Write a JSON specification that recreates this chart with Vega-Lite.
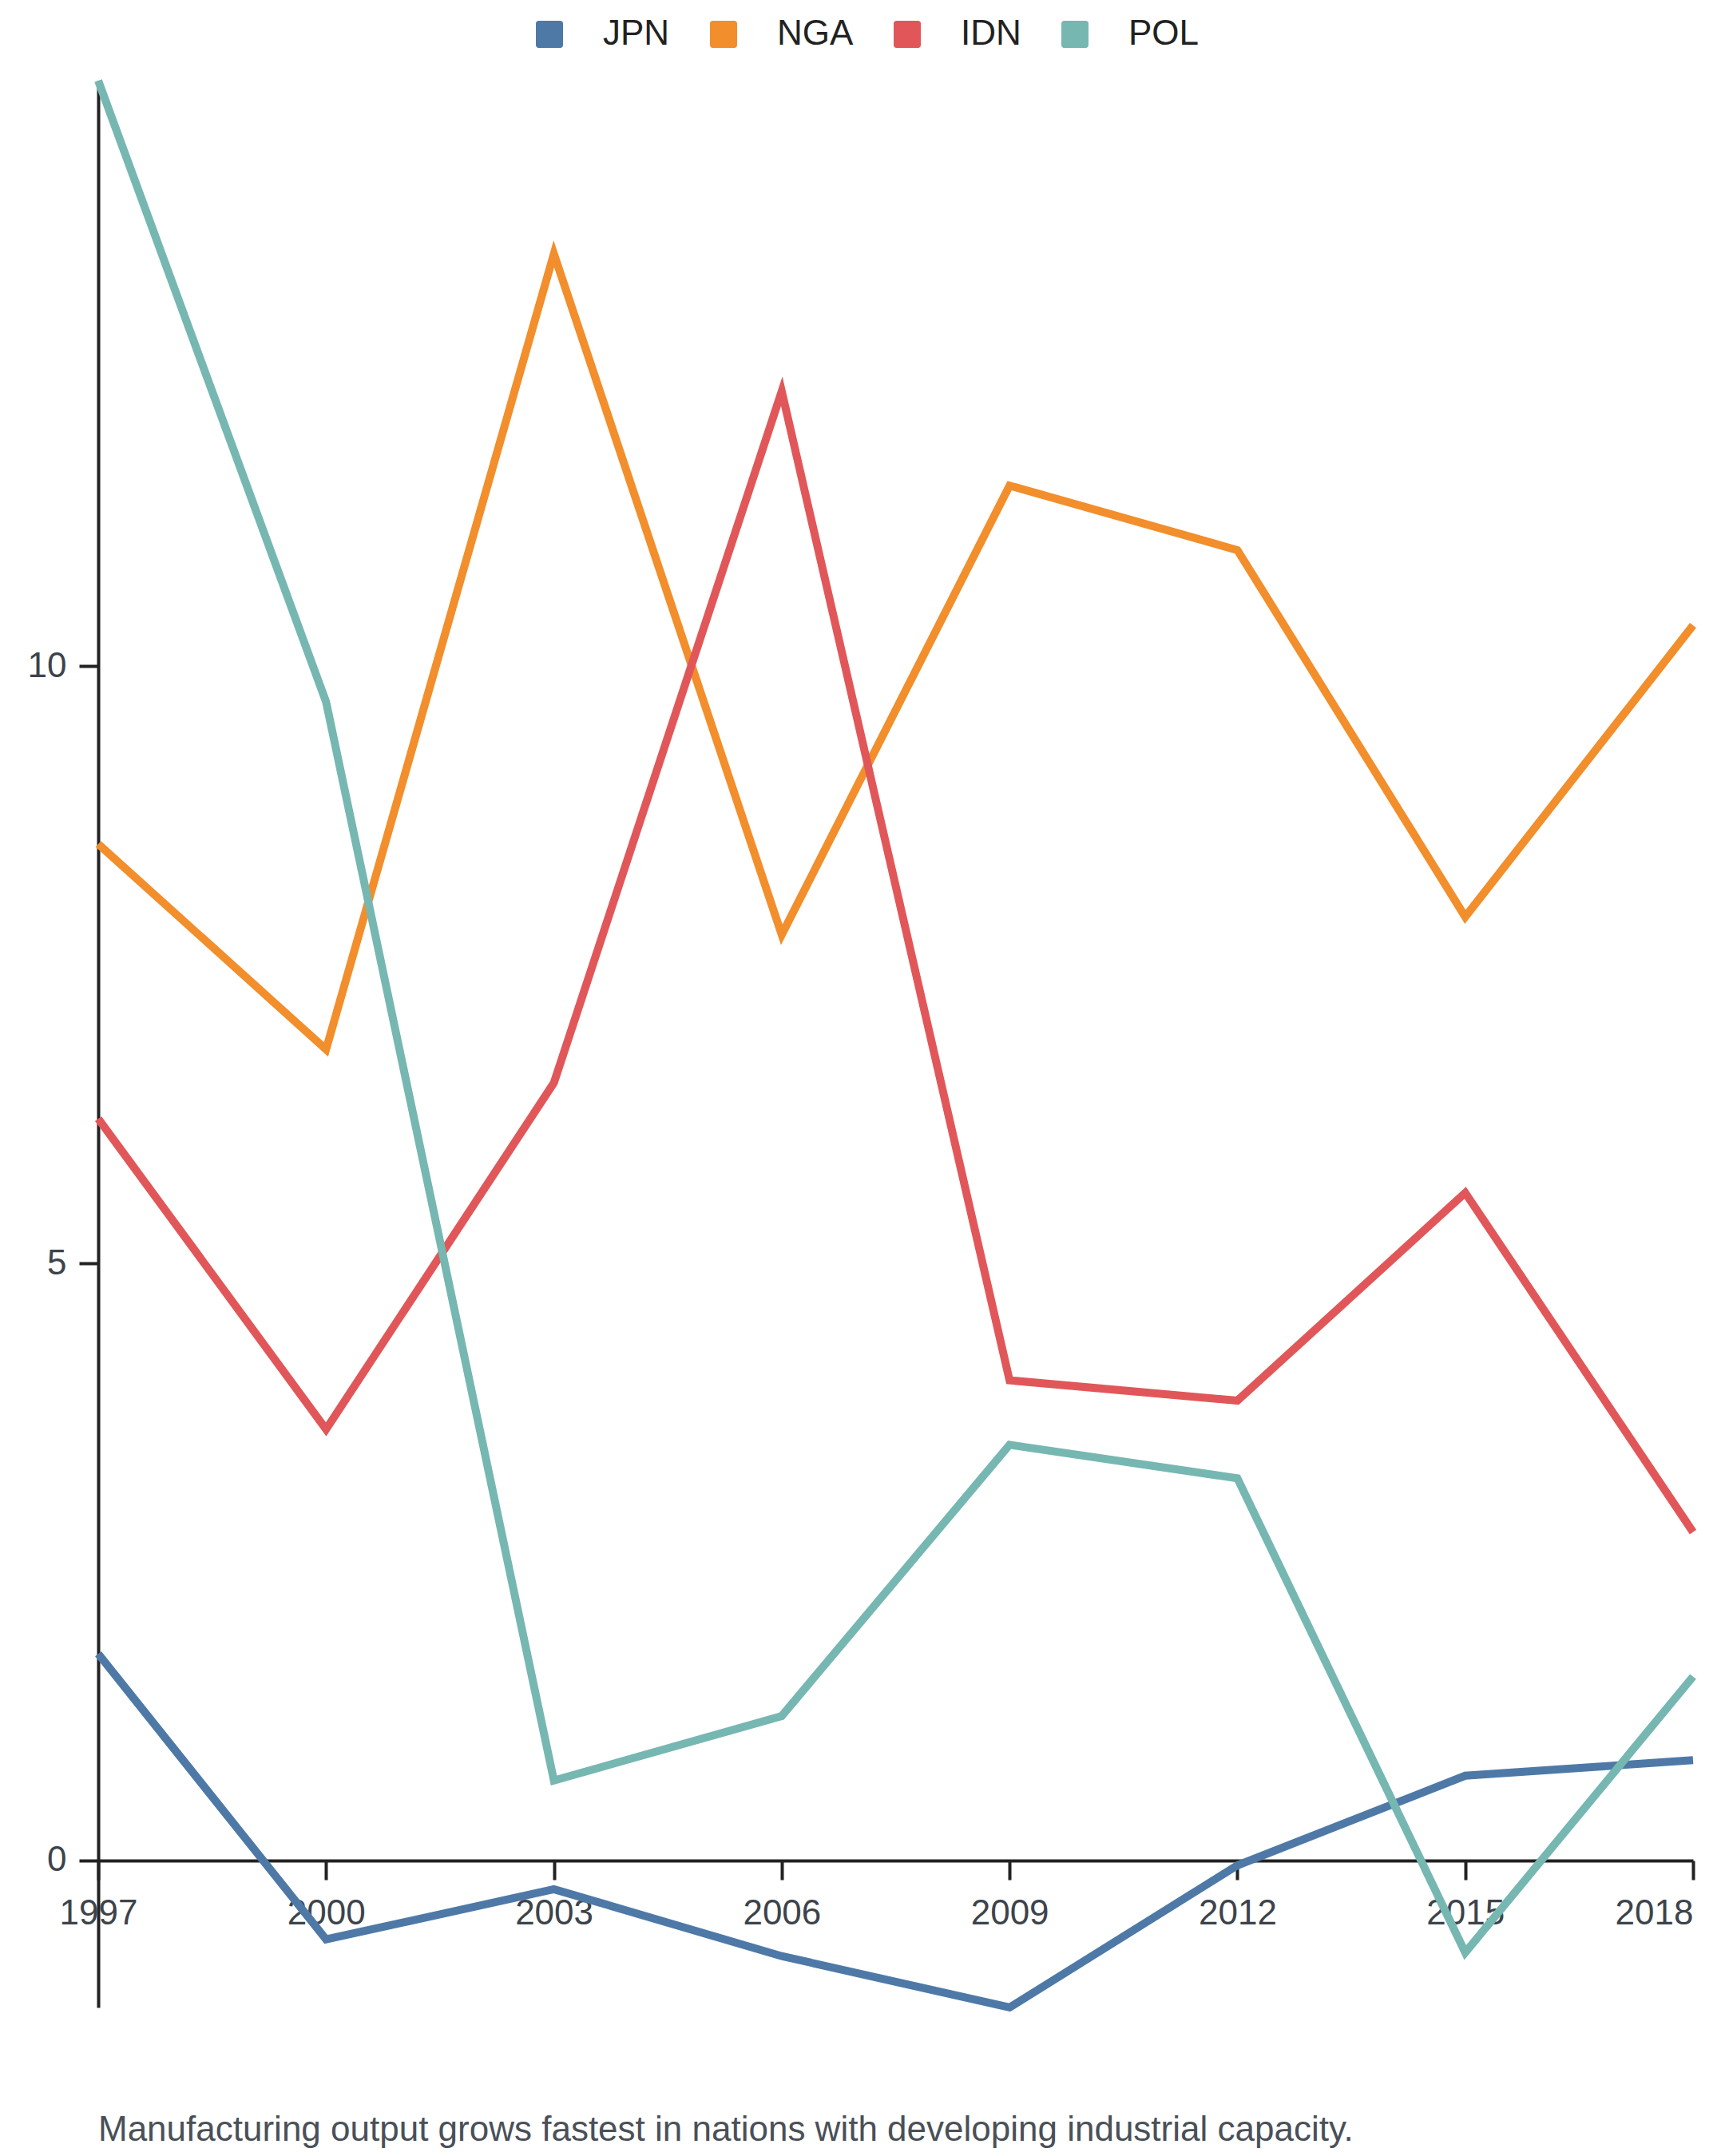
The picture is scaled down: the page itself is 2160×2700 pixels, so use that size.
{
  "$schema": "https://vega.github.io/schema/vega-lite/v6.json",
  "width": 1997,
  "height": 2413,
  "autosize": {"type": "none"},
  "padding": {"left": 123, "top": 101, "right": 40, "bottom": 186},
  "background": "white",
  "config": {
    "view": {"stroke": null},
    "font": "Liberation Sans"
  },
  "title": {
    "text": "Manufacturing output grows fastest in nations with developing industrial capacity.",
    "orient": "bottom",
    "anchor": "start",
    "frame": "group",
    "fontSize": 44,
    "fontWeight": "normal",
    "color": "#4a5058",
    "offset": 112
  },
  "data": {
    "values": [
      {"year": "1997", "country": "JPN", "value": 1.73},
      {"year": "2000", "country": "JPN", "value": -0.66},
      {"year": "2003", "country": "JPN", "value": -0.24},
      {"year": "2006", "country": "JPN", "value": -0.8},
      {"year": "2009", "country": "JPN", "value": -1.23},
      {"year": "2012", "country": "JPN", "value": -0.04},
      {"year": "2015", "country": "JPN", "value": 0.71},
      {"year": "2018", "country": "JPN", "value": 0.84},
      {"year": "1997", "country": "NGA", "value": 8.51},
      {"year": "2000", "country": "NGA", "value": 6.79},
      {"year": "2003", "country": "NGA", "value": 13.45},
      {"year": "2006", "country": "NGA", "value": 7.75},
      {"year": "2009", "country": "NGA", "value": 11.51},
      {"year": "2012", "country": "NGA", "value": 10.97},
      {"year": "2015", "country": "NGA", "value": 7.9},
      {"year": "2018", "country": "NGA", "value": 10.34},
      {"year": "1997", "country": "IDN", "value": 6.21},
      {"year": "2000", "country": "IDN", "value": 3.61},
      {"year": "2003", "country": "IDN", "value": 6.51},
      {"year": "2006", "country": "IDN", "value": 12.3},
      {"year": "2009", "country": "IDN", "value": 4.02},
      {"year": "2012", "country": "IDN", "value": 3.85},
      {"year": "2015", "country": "IDN", "value": 5.59},
      {"year": "2018", "country": "IDN", "value": 2.75},
      {"year": "1997", "country": "POL", "value": 14.9},
      {"year": "2000", "country": "POL", "value": 9.7},
      {"year": "2003", "country": "POL", "value": 0.67},
      {"year": "2006", "country": "POL", "value": 1.21},
      {"year": "2009", "country": "POL", "value": 3.48},
      {"year": "2012", "country": "POL", "value": 3.2},
      {"year": "2015", "country": "POL", "value": -0.77},
      {"year": "2018", "country": "POL", "value": 1.54}
    ]
  },
  "mark": {"type": "line", "strokeWidth": 10, "strokeJoin": "miter"},
  "encoding": {
    "x": {
      "field": "year",
      "type": "ordinal",
      "scale": {"type": "point", "padding": 0},
      "axis": {
        "title": null,
        "labelAngle": 0,
        "labelAlign": {"condition": {"test": "datum.value == '2018'", "value": "right"}, "value": "center"},
        "offset": -184,
        "domainColor": "#222222",
        "domainWidth": 4,
        "tickColor": "#222222",
        "tickWidth": 4,
        "tickSize": 24,
        "labelFontSize": 44,
        "labelColor": "#3d434b",
        "labelPadding": 20,
        "grid": false
      }
    },
    "y": {
      "field": "value",
      "type": "quantitative",
      "scale": {"nice": false, "zero": false, "domain": [-1.23, 14.9]},
      "axis": {
        "title": null,
        "values": [0, 5, 10],
        "domainColor": "#222222",
        "domainWidth": 4,
        "tickColor": "#222222",
        "tickWidth": 4,
        "tickSize": 24,
        "labelFontSize": 44,
        "labelColor": "#3d434b",
        "labelPadding": 16,
        "grid": false
      }
    },
    "color": {
      "field": "country",
      "type": "nominal",
      "sort": ["JPN", "NGA", "IDN", "POL"],
      "scale": {
        "domain": ["JPN", "NGA", "IDN", "POL"],
        "range": ["#4e79a7", "#f28e2b", "#e15759", "#76b7b2"]
      },
      "legend": {
        "title": null,
        "orient": "none",
        "direction": "horizontal",
        "legendX": 543,
        "legendY": -80,
        "symbolType": "M-0.8,-1H0.8A0.2,0.2 0 0 1 1,-0.8V0.8A0.2,0.2 0 0 1 0.8,1H-0.8A0.2,0.2 0 0 1 -1,0.8V-0.8A0.2,0.2 0 0 1 -0.8,-1Z",
        "symbolSize": 1156,
        "symbolStrokeWidth": 0,
        "labelFontSize": 44,
        "labelColor": "#222222",
        "labelOffset": 45,
        "columnPadding": 45,
        "encode": {
          "symbols": {
            "update": {
              "fill": {"scale": "color", "field": "value"},
              "fillOpacity": {"value": 1},
              "strokeWidth": {"value": 0},
              "size": {"value": 1156}
            }
          }
        }
      }
    }
  }
}
